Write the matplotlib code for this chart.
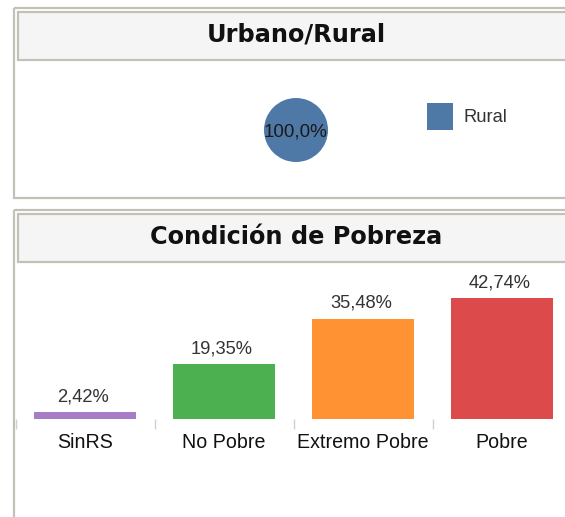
import matplotlib
matplotlib.use("Agg")
import matplotlib.pyplot as plt
from matplotlib.patches import Rectangle

# --- data ---
zone_labels = ["Rural"]
zone_shares = [100.0]
zone_colors = ["#4e79a7"]

poverty_categories = ["SinRS", "No Pobre", "Extremo Pobre", "Pobre"]
poverty_shares = [2.42, 19.35, 35.48, 42.74]
poverty_colors = ["#a67dc6", "#4caf50", "#ff9233", "#dd4a4c"]

W, H = 565, 517
DPI = 100
fig = plt.figure(figsize=(W / DPI, H / DPI), dpi=DPI)
fig.patch.set_facecolor("white")

LINE = "#c3c1b7"
TITLE_BG = "#f5f5f5"
TEXT = "#333333"


def px_axes(x0, y0, x1, y1):
    """Add axes given pixel box (top-left origin)."""
    return fig.add_axes([x0 / W, 1 - y1 / H, (x1 - x0) / W, (y1 - y0) / H])


# background layer for panel frames
bg = fig.add_axes([0, 0, 1, 1], zorder=0)
bg.set_xlim(0, W)
bg.set_ylim(H, 0)
bg.axis("off")


def panel(top, bottom, title):
    # outer frame
    bg.add_patch(Rectangle((13.5, top), 600, bottom - top, fill=False,
                           edgecolor=LINE, lw=1.6))
    # title strip
    bg.add_patch(Rectangle((17.5, top + 4), 600, 48, facecolor=TITLE_BG,
                           edgecolor=LINE, lw=1.6))
    bg.text(296, top + 27, title, ha="center", va="center",
            fontsize=17.3, fontweight="bold", family="DejaVu Sans",
            color="#111111")


panel(7.5, 197.5, "Urbano/Rural")
panel(209.5, 540, "Condición de Pobreza")

# --- pie: urban / rural ---
pie_ax = px_axes(264, 98, 328, 162)
wedges, _ = pie_ax.pie(zone_shares, colors=zone_colors, radius=1,
                       startangle=90, counterclock=False)
pie_ax.set_xlim(-1, 1)
pie_ax.set_ylim(-1, 1)
pie_ax.set_aspect("equal")
pie_ax.text(0, -0.05, f"{zone_shares[0]:.1f}%".replace(".", ","),
            ha="center", va="center", fontsize=13.6,
            family="Liberation Sans", color="#1a1a1a")
fig.legend(wedges, zone_labels, loc="center left",
           bbox_to_anchor=(427 / W, 1 - 116.5 / H), frameon=False,
           prop={"family": "Liberation Sans", "size": 13.2},
           handlelength=1.42, handleheight=1.82, handletextpad=0.55,
           borderpad=0, borderaxespad=0, labelcolor=TEXT)

# --- bars: poverty condition ---
bar_ax = px_axes(15.5, 270, 571.5, 419)
x = range(len(poverty_categories))
bar_ax.bar(x, poverty_shares, width=0.74, color=poverty_colors)
bar_ax.set_xlim(-0.5, len(poverty_categories) - 0.5)
bar_ax.set_ylim(0, 52.65)
for xi, v in zip(x, poverty_shares):
    bar_ax.annotate(f"{v:.2f}%".replace(".", ","), (xi, v),
                    xytext=(-2, 7), textcoords="offset pixels",
                    ha="center", va="bottom", fontsize=13.2,
                    family="Liberation Sans", color=TEXT)
for s in bar_ax.spines.values():
    s.set_visible(False)
bar_ax.set_yticks([])
bar_ax.set_xticks(list(x))
bar_ax.set_xticklabels(poverty_categories, family="Liberation Sans",
                       fontsize=14.1, color="#111111")
bar_ax.tick_params(axis="x", length=0, pad=10)
# category separators below the baseline
bar_ax.set_xticks([i - 0.5 for i in range(len(poverty_categories) + 1)],
                  minor=True)
bar_ax.tick_params(axis="x", which="minor", length=7, width=1,
                   color="#d0d0d0", direction="out", pad=0)
bar_ax.patch.set_alpha(0)

fig.savefig("out.png", dpi=DPI, facecolor="white")
